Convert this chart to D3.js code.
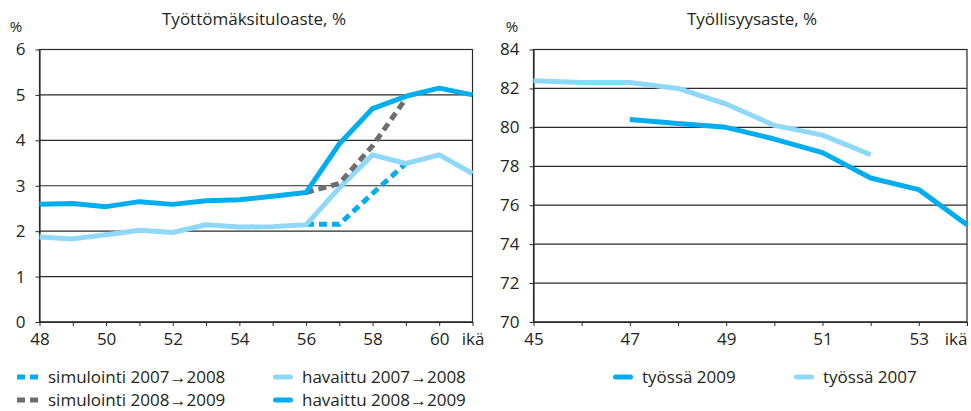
<!DOCTYPE html>
<html>
<head>
<meta charset="utf-8">
<script src="https://cdn.jsdelivr.net/npm/d3@7"></script>
<style>
  body { margin: 0; background: #fff; }
  text { font-family: "Open Sans", sans-serif; fill: #231f20; }
</style>
</head>
<body>
<div id="chart"></div>
<script>
// --- data ---
const ageLeft = [48, 49, 50, 51, 52, 53, 54, 55, 56, 57, 58, 59, 60, 61];
const havaittu0708 = [1.87, 1.83, 1.92, 2.02, 1.97, 2.14, 2.09, 2.10, 2.14, 2.95, 3.68, 3.49, 3.68, 3.27];
const havaittu0809 = [2.59, 2.61, 2.54, 2.65, 2.59, 2.67, 2.69, 2.77, 2.85, 3.92, 4.70, 4.97, 5.15, 5.00];
const ageSim = [56, 57, 58, 59];
const sim0708 = [2.15, 2.15, 2.83, 3.49];
const sim0809 = [2.85, 3.05, 3.88, 4.92];
const leftTicksY = [0, 1, 2, 3, 4, 5, 6];

const ageRight = [45, 46, 47, 48, 49, 50, 51, 52, 53, 54];
const age2007 = [45, 46, 47, 48, 49, 50, 51, 52];
const tyossa2007 = [82.4, 82.3, 82.3, 82.0, 81.2, 80.1, 79.6, 78.6];
const age2009 = [47, 48, 49, 50, 51, 52, 53, 54];
const tyossa2009 = [80.4, 80.2, 80.0, 79.4, 78.7, 77.4, 76.8, 75.0];
const rightTicksY = [70, 72, 74, 76, 78, 80, 82, 84];

const DARK = "#00aeef", LIGHT = "#8fd8f7", GREY = "#6d6e71";

let svg = d3.select("#chart").append("svg")
    .attr("width", 971)
    .attr("height", 411);

function panel(opt) {
    let g = svg.append("g");
    let x = d3.scaleLinear().domain(opt.xDomain).range([opt.x0, opt.x1]);
    let y = d3.scaleLinear().domain(opt.yDomain).range([322, 49.5]);

    // gridlines
    g.append("g").selectAll("line")
        .data(opt.yTicks).enter()
        .append("line")
        .attr("x1", opt.x0).attr("x2", opt.x1)
        .attr("y1", d => y(d)).attr("y2", d => y(d))
        .attr("stroke", "#2a2a2a")
        .attr("stroke-width", 1.2);

    // frame
    g.append("rect")
        .attr("x", opt.x0).attr("y", y(opt.yDomain[1]))
        .attr("width", opt.x1 - opt.x0)
        .attr("height", y(opt.yDomain[0]) - y(opt.yDomain[1]))
        .attr("fill", "none")
        .attr("stroke", "#2a2a2a")
        .attr("stroke-width", 1.2);

    // axes
    let xAxis = d3.axisBottom(x)
        .tickValues(opt.xTicks)
        .tickSize(4).tickSizeOuter(0).tickPadding(7)
        .tickFormat(opt.xFormat);
    let gx = g.append("g").attr("transform", "translate(0,322)").call(xAxis);
    let yAxis = d3.axisLeft(y)
        .tickValues(opt.yTicks)
        .tickSize(4).tickSizeOuter(0).tickPadding(10)
        .tickFormat(d3.format("d"));
    let gy = g.append("g").attr("transform", "translate(" + opt.x0 + ",0)").call(yAxis);
    [gx, gy].forEach(a => {
        a.select(".domain").attr("stroke", "#2a2a2a").attr("stroke-width", 1.2);
        a.selectAll(".tick line").attr("stroke", "#2a2a2a");
        a.selectAll("text").style("font-size", "17px").attr("fill", "#231f20");
    });

    // title and unit
    g.append("text")
        .attr("x", opt.titleX).attr("y", 25)
        .attr("text-anchor", "middle")
        .style("font-size", "17px")
        .text(opt.title);
    g.append("text")
        .attr("x", opt.unitX).attr("y", 32)
        .attr("text-anchor", "middle")
        .style("font-size", "15px")
        .text("%");

    let line = d3.line().x(d => x(d[0])).y(d => y(d[1]));
    opt.series.forEach(s => {
        g.append("path")
            .datum(d3.zip(s.ages, s.values))
            .attr("d", line)
            .attr("fill", "none")
            .attr("stroke", s.color)
            .attr("stroke-width", 5)
            .attr("stroke-linejoin", "round")
            .attr("stroke-dasharray", s.dash ? "8,5" : null);
    });
    return gx;
}

panel({
    xDomain: [48, 61], x0: 39.5, x1: 472.5,
    yDomain: [0, 6], yTicks: leftTicksY,
    xTicks: ageLeft,
    xFormat: d => d === 61 ? "ikä" : (d % 2 === 0 ? d : ""),
    title: "Työttömäksituloaste, %", titleX: 254, unitX: 16,
    series: [
        {ages: ageSim, values: sim0708, color: DARK, dash: true},
        {ages: ageLeft, values: havaittu0708, color: LIGHT},
        {ages: ageSim, values: sim0809, color: GREY, dash: true},
        {ages: ageLeft, values: havaittu0809, color: DARK}
    ]
});

let gxr = panel({
    xDomain: [45, 54], x0: 533.5, x1: 967,
    yDomain: [70, 84], yTicks: rightTicksY,
    xTicks: ageRight,
    xFormat: d => d === 54 ? "ikä" : (d % 2 === 1 ? d : ""),
    title: "Työllisyysaste, %", titleX: 752, unitX: 512,
    series: [
        {ages: age2007, values: tyossa2007, color: LIGHT},
        {ages: age2009, values: tyossa2009, color: DARK}
    ]
});
// last label would be cut by the window edge
gxr.selectAll(".tick text").filter(d => d === 54).attr("text-anchor", "end");

// legends
const legendLeft = [
    {label: "simulointi 2007→2008", color: DARK, dash: true, x: 17, y: 377},
    {label: "simulointi 2008→2009", color: GREY, dash: true, x: 17, y: 400},
    {label: "havaittu 2007→2008", color: LIGHT, dash: false, x: 273, y: 377},
    {label: "havaittu 2008→2009", color: DARK, dash: false, x: 273, y: 400}
];
const legendRight = [
    {label: "työssä 2009", color: DARK, dash: false, x: 613, y: 377},
    {label: "työssä 2007", color: LIGHT, dash: false, x: 794, y: 377}
];

let leg = svg.append("g").selectAll("g")
    .data(legendLeft.concat(legendRight)).enter()
    .append("g");
leg.append("line")
    .attr("x1", d => d.dash ? d.x : d.x + 2.5)
    .attr("x2", d => d.dash ? d.x + 21 : d.x + 17.5)
    .attr("y1", d => d.y).attr("y2", d => d.y)
    .attr("stroke", d => d.color)
    .attr("stroke-width", 5)
    .attr("stroke-linecap", d => d.dash ? "butt" : "round")
    .attr("stroke-dasharray", d => d.dash ? "8,5" : null);
leg.append("text")
    .attr("x", d => d.x + (d.dash ? 31 : 29))
    .attr("y", d => d.y)
    .attr("dy", "0.35em")
    .style("font-size", "17px")
    .text(d => d.label);
</script>
</body>
</html>
